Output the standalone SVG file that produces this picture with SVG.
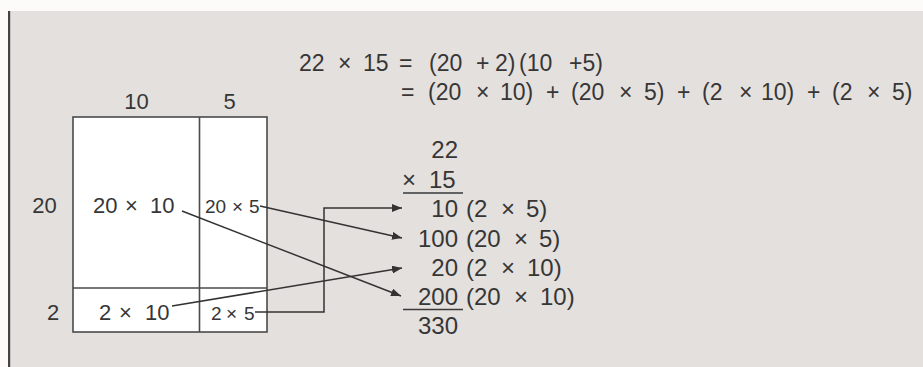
<svg xmlns="http://www.w3.org/2000/svg" width="923" height="367" viewBox="0 0 923 367">
  <style>
    text { font-family: "Liberation Sans", Arial, sans-serif; fill: #363636; }
    .eq { font-size: 23px; }
    .lab { font-size: 22px; }
    .big { font-size: 22px; }
    .small { font-size: 19px; }
    .col { font-size: 24px; }
    .grid { fill: #ffffff; stroke: #4a4a4a; stroke-width: 1.6; }
    .gl { stroke: #4a4a4a; stroke-width: 1.6; fill: none; }
    .conn { stroke: #333333; stroke-width: 1.5; fill: none; }
    .rule { stroke: #3a3a3a; stroke-width: 1.6; }
  </style>
  <defs>
    <marker id="arr" viewBox="0 0 10 8" refX="10" refY="4" markerWidth="10" markerHeight="8" markerUnits="userSpaceOnUse" orient="auto">
      <path d="M0,0 L10,4 L0,8 Z" fill="#333333"/>
    </marker>
  </defs>

  <rect x="0" y="0" width="923" height="367" fill="#fcfbf9"/>
  <rect x="10" y="11" width="913" height="356" fill="#e4e0dd"/>
  <rect x="8" y="11" width="2.2" height="356" fill="#444444"/>

  <g id="grid-box">
    <rect class="grid" x="73" y="117" width="194" height="215"/>
    <line class="gl" x1="199.5" y1="117" x2="199.5" y2="332"/>
    <line class="gl" x1="73" y1="288" x2="267" y2="288"/>
  </g>

  <g id="side-labels">
    <text class="lab" x="136.5" y="109" text-anchor="middle">10</text>
    <text class="lab" x="229.5" y="109" text-anchor="middle">5</text>
    <text class="lab" x="44.5" y="213" text-anchor="middle">20</text>
    <text class="lab" x="53" y="320" text-anchor="middle">2</text>
  </g>

  <g id="cell-20x10">
    <text class="big" y="213"><tspan x="93">20 </tspan><tspan x="125">× </tspan><tspan x="150">10</tspan></text>
  </g>
  <g id="cell-20x5">
    <text class="small" y="213"><tspan x="205">20 </tspan><tspan x="232">× </tspan><tspan x="249">5</tspan></text>
  </g>
  <g id="cell-2x10">
    <text class="big" y="320"><tspan x="99">2 </tspan><tspan x="119">× </tspan><tspan x="145">10</tspan></text>
  </g>
  <g id="cell-2x5">
    <text class="small" y="320"><tspan x="211">2 </tspan><tspan x="226">× </tspan><tspan x="244">5</tspan></text>
  </g>

  <g id="equation">
    <text class="eq" y="71"><tspan x="299">22 </tspan><tspan x="338">× </tspan><tspan x="363">15 </tspan><tspan x="399">= </tspan><tspan x="429">(20 </tspan><tspan x="476">+ </tspan><tspan x="495">2)</tspan><tspan x="519">(10 </tspan><tspan x="569">+5)</tspan></text>
    <text class="eq" y="100"><tspan x="401">= </tspan><tspan x="428">(20 </tspan><tspan x="476">× </tspan><tspan x="500">10) </tspan><tspan x="546">+ </tspan><tspan x="571">(20 </tspan><tspan x="619">× </tspan><tspan x="644">5) </tspan><tspan x="677">+ </tspan><tspan x="702">(2 </tspan><tspan x="739">× </tspan><tspan x="761">10) </tspan><tspan x="807">+ </tspan><tspan x="832">(2 </tspan><tspan x="867">× </tspan><tspan x="892">5)</tspan></text>
  </g>

  <g id="column-multiplication">
    <text class="col" x="458" y="158" text-anchor="end">22</text>
    <text class="col" y="188"><tspan x="402">× </tspan><tspan x="429">15</tspan></text>
    <line class="rule" x1="403" y1="193" x2="463" y2="193"/>
    <g id="row-10">
      <text class="col" x="458" y="217" text-anchor="end">10</text>
      <text class="col" y="217"><tspan x="466">(2 </tspan><tspan x="501">× </tspan><tspan x="526">5)</tspan></text>
    </g>
    <g id="row-100">
      <text class="col" x="458" y="247" text-anchor="end">100</text>
      <text class="col" y="247"><tspan x="466">(20 </tspan><tspan x="514">× </tspan><tspan x="539">5)</tspan></text>
    </g>
    <g id="row-20">
      <text class="col" x="458" y="276" text-anchor="end">20</text>
      <text class="col" y="276"><tspan x="466">(2 </tspan><tspan x="501">× </tspan><tspan x="527">10)</tspan></text>
    </g>
    <g id="row-200">
      <text class="col" x="458" y="305" text-anchor="end">200</text>
      <text class="col" y="305"><tspan x="466">(20 </tspan><tspan x="514">× </tspan><tspan x="540">10)</tspan></text>
    </g>
    <line class="rule" x1="403" y1="309.5" x2="463" y2="309.5"/>
    <text class="col" x="458" y="334" text-anchor="end">330</text>
  </g>

  <g id="connectors">
    <line class="conn" x1="260" y1="206" x2="402" y2="238" marker-end="url(#arr)"/>
    <line class="conn" x1="182" y1="211" x2="401" y2="296" marker-end="url(#arr)"/>
    <line class="conn" x1="172" y1="306" x2="402" y2="268" marker-end="url(#arr)"/>
    <polyline class="conn" points="255,312 324,312 324,208 402,208" marker-end="url(#arr)"/>
  </g>
</svg>
